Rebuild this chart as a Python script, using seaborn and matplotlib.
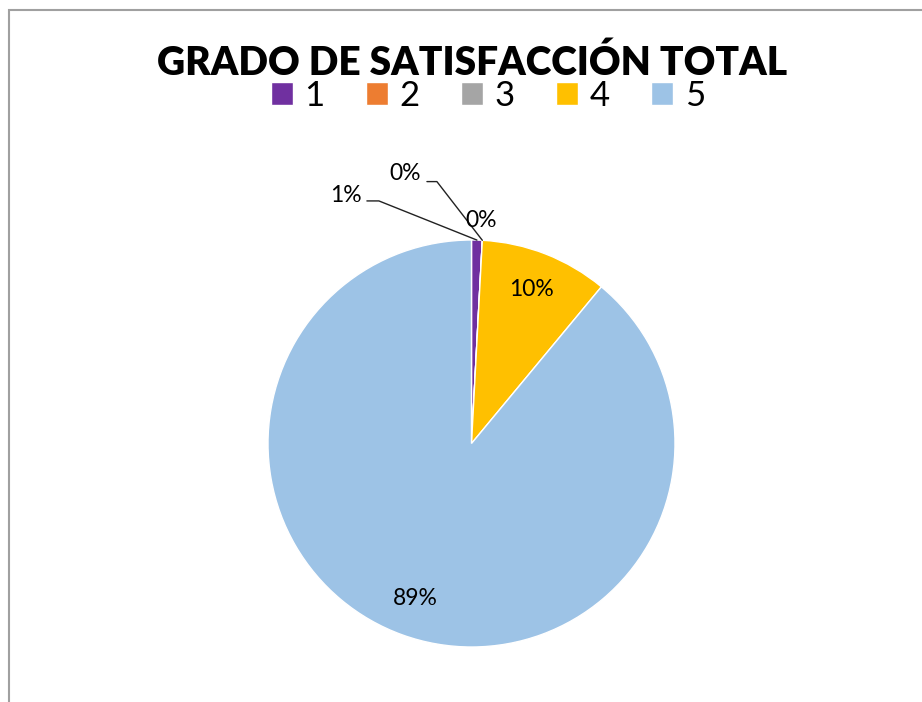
import numpy as np
import matplotlib.pyplot as plt
import seaborn as sns
from matplotlib.patches import Patch, Rectangle

# datos
categorias = ['1', '2', '3', '4', '5']
respuestas = [1, 0, 0, 12, 105]
colores = ['#7030A0', '#ED7D31', '#A5A5A5', '#FFC000', '#9DC3E6']
titulo = 'GRADO DE SATISFACCIÓN TOTAL'

sns.set_theme(style='white')
plt.rcParams['font.family'] = ['Lato', 'DejaVu Sans']
plt.rcParams['text.color'] = 'black'

W, H = 922, 702
fig = plt.figure(figsize=(W / 100, H / 100), dpi=100)

# pie placed in pixel terms
cx, cy, r = 471.5, 443.5, 203.5
ax = fig.add_axes([(cx - r) / W, (H - cy - r) / H, 2 * r / W, 2 * r / H])
wedges, _ = ax.pie(respuestas, colors=colores, startangle=90, counterclock=False,
                   radius=1, wedgeprops=dict(edgecolor='white', linewidth=1))
ax.set_xlim(-1, 1)
ax.set_ylim(-1, 1)
ax.set_aspect('equal')
ax.axis('off')

total = sum(respuestas)
pcts = [f'{v / total * 100:.0f}%' for v in respuestas]

def mid(w, rad=1.0):
    t = np.deg2rad((w.theta1 + w.theta2) / 2)
    return rad * np.cos(t), rad * np.sin(t)

lbl = dict(fontsize=16.5, color='black', ha='center', va='center')

# big slices: label inside
for w, p, v in zip(wedges, pcts, respuestas):
    if v / total > 0.05:
        x, y = mid(w, 0.81)
        ax.text(x, y, p, **lbl)

# small slices with leader lines
lc = dict(color='#222222', lw=1)
ex, ey = mid(wedges[0])
ax.text(-0.619, 1.221, pcts[0], **lbl)
ax.plot([-0.514, -0.455, ex], [1.192, 1.192, ey], clip_on=False, **lc)

ex, ey = mid(wedges[1])
ax.text(-0.327, 1.327, pcts[1], **lbl)
ax.plot([-0.219, -0.170, ex], [1.287, 1.287, ey], clip_on=False, **lc)

ax.text(0.049, 1.098, pcts[2], **lbl)

# title and legend
fig.text(472 / W, (H - 75) / H, titulo, fontsize=28, fontweight='heavy',
         color='black', ha='center', va='baseline')
handles = [Patch(facecolor=c) for c in colores]
fig.legend(handles, categorias, loc='center', bbox_to_anchor=(488 / W, (H - 96) / H),
           ncol=5, frameon=False, fontsize=25, handlelength=0.63, handleheight=0.63,
           handletextpad=0.34, columnspacing=1.19, labelcolor='black')

# chart area border (only left and top visible)
fig.add_artist(Rectangle((8.5 / W, -0.05), 1.0, (H - 10) / H + 0.05,
                         transform=fig.transFigure, fill=False,
                         edgecolor='#A0A0A0', lw=1.5))

fig.savefig('out.png', dpi=100)
